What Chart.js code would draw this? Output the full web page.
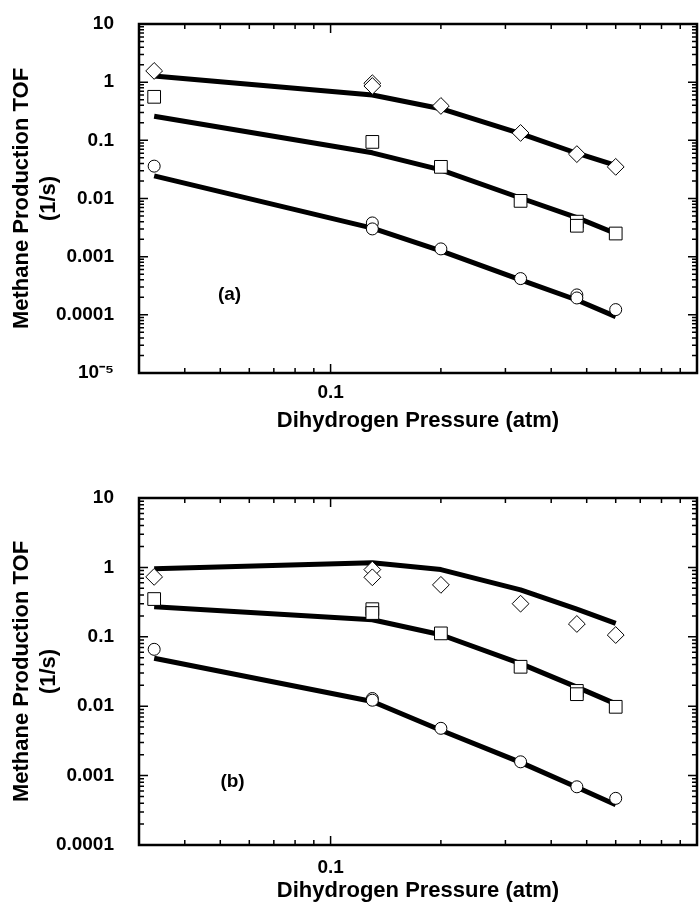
<!DOCTYPE html>
<html>
<head>
<meta charset="utf-8">
<script src="https://cdn.jsdelivr.net/npm/chart.js@4.4.1/dist/chart.umd.min.js"></script>
<style>
  html, body { margin: 0; padding: 0; background: #fff; }
  #wrap { position: relative; width: 699px; height: 905px; }
  canvas { position: absolute; left: 0; }
  #chartA { top: 0; }
  #chartB { top: 450px; }
</style>
</head>
<body>
<div id="wrap">
  <canvas id="chartA" width="699" height="450"></canvas>
  <canvas id="chartB" width="699" height="455"></canvas>
</div>
<script>
// pressures where the model curves are evaluated (atm)
const pressure = [0.033, 0.13, 0.2, 0.33, 0.47, 0.6];

// panel (a) - measured TOF
const aDiamondX = [0.033, 0.13, 0.13, 0.2, 0.33, 0.47, 0.6];
const aDiamondY = [1.56, 0.96, 0.86, 0.39, 0.134, 0.058, 0.035];
const aSquareX = [0.033, 0.13, 0.2, 0.33, 0.47, 0.47, 0.6];
const aSquareY = [0.56, 0.094, 0.035, 0.0091, 0.0040, 0.0034, 0.0025];
const aCircleX = [0.033, 0.13, 0.13, 0.2, 0.33, 0.47, 0.47, 0.6];
const aCircleY = [0.036, 0.0038, 0.0030, 0.00136, 0.00042, 0.00022, 0.000195, 0.000123];
// panel (a) - model curves
const aDiamondFit = [1.28, 0.60, 0.35, 0.13, 0.060, 0.037];
const aSquareFit = [0.26, 0.061, 0.031, 0.0102, 0.0047, 0.0025];
const aCircleFit = [0.0245, 0.0031, 0.00126, 0.00040, 0.00018, 0.000093];

// panel (b) - measured TOF
const bDiamondX = [0.033, 0.13, 0.13, 0.2, 0.33, 0.47, 0.6];
const bDiamondY = [0.73, 0.93, 0.72, 0.56, 0.30, 0.153, 0.106];
const bSquareX = [0.033, 0.13, 0.13, 0.2, 0.33, 0.47, 0.47, 0.6];
const bSquareY = [0.35, 0.25, 0.22, 0.112, 0.037, 0.0166, 0.0149, 0.0098];
const bCircleX = [0.033, 0.13, 0.13, 0.2, 0.33, 0.47, 0.6];
const bCircleY = [0.066, 0.0129, 0.0122, 0.0048, 0.00158, 0.00069, 0.00047];
// panel (b) - model curves
const bDiamondFit = [0.96, 1.17, 0.93, 0.475, 0.25, 0.156];
const bSquareFit = [0.27, 0.176, 0.107, 0.041, 0.0188, 0.0108];
const bCircleFit = [0.049, 0.0117, 0.0045, 0.00155, 0.00068, 0.00038];

// axis ticks
const xTickVals = [0.1];
const xTickText = ['0.1'];
const yTickVals = [0.00001, 0.0001, 0.001, 0.01, 0.1, 1, 10];
const yTickText = ['10\u207B\u2075', '0.0001', '0.001', '0.01', '0.1', '1', '10'];

const FONT = "'Liberation Sans', Arial, Helvetica, sans-serif";

const pts = (xs, ys) => xs.map((x, i) => ({ x, y: ys[i] }));

const markers = (xs, ys, style, r) => ({
  data: pts(xs, ys),
  showLine: false,
  pointStyle: style,
  pointRadius: r,
  pointBackgroundColor: '#fff',
  pointBorderColor: '#000',
  pointBorderWidth: 1,
  order: 0,
});

const curve = (ys) => ({
  data: pts(pressure, ys),
  showLine: true,
  borderColor: '#000',
  borderWidth: 5,
  borderJoinStyle: 'round',
  pointRadius: 0,
  tension: 0,
  order: 1,
});

// 1..9 x 10^d between min and max
const logTicks = (min, max) => {
  const out = [];
  for (let d = Math.floor(Math.log10(min)); d <= Math.ceil(Math.log10(max)); d++) {
    for (let m = 1; m <= 9; m++) {
      const v = Number((m * Math.pow(10, d)).toPrecision(3));
      if (v >= min * 0.999 && v <= max * 1.001) out.push({ v, major: m === 1 });
    }
  }
  return out;
};

// box around the plot, inward tick marks and the panel tag
const frameTicks = {
  id: 'frameTicks',
  afterDatasetsDraw(chart, args, opts) {
    const { ctx, chartArea: a, scales: { x, y } } = chart;
    ctx.save();
    ctx.strokeStyle = '#000';
    ctx.lineWidth = 1.5;
    ctx.beginPath();
    logTicks(x.min, x.max).forEach((t) => {
      const px = x.getPixelForValue(t.v);
      const len = t.major ? 9 : 5;
      ctx.moveTo(px, a.bottom); ctx.lineTo(px, a.bottom - len);
      ctx.moveTo(px, a.top); ctx.lineTo(px, a.top + len);
    });
    logTicks(y.min, y.max).forEach((t) => {
      const py = y.getPixelForValue(t.v);
      const len = t.major ? 9 : 5;
      ctx.moveTo(a.left, py); ctx.lineTo(a.left + len, py);
      ctx.moveTo(a.right, py); ctx.lineTo(a.right - len, py);
    });
    ctx.stroke();
    ctx.lineWidth = 2.5;
    ctx.strokeRect(a.left, a.top, a.right - a.left, a.bottom - a.top);

    ctx.fillStyle = '#000';
    ctx.font = `bold 19px ${FONT}`;
    ctx.textAlign = 'center';
    ctx.textBaseline = 'middle';
    ctx.fillText(opts.tag, x.getPixelForValue(opts.tagX), y.getPixelForValue(opts.tagY));
    ctx.restore();
  },
};

const tickFont = { family: FONT, size: 19, weight: 'bold' };
const titleFont = { family: FONT, size: 22, weight: 'bold' };

function makeChart(canvas, p) {
  return new Chart(canvas.getContext('2d'), {
    type: 'scatter',
    data: {
      datasets: [
        markers(p.dx, p.dy, 'rectRot', 8.4),
        markers(p.sx, p.sy, 'rect', 9),
        markers(p.cx, p.cy, 'circle', 6),
        curve(p.dFit),
        curve(p.sFit),
        curve(p.cFit),
      ],
    },
    options: {
      responsive: false,
      animation: false,
      layout: { autoPadding: false, padding: { top: p.top, right: 2, left: 0, bottom: 0 } },
      plugins: {
        legend: { display: false },
        tooltip: { enabled: false },
        frameTicks: { tag: p.tag, tagX: p.tagX, tagY: p.tagY },
      },
      scales: {
        x: {
          type: 'logarithmic',
          min: 0.03,
          max: 1,
          grid: { display: false },
          border: { display: false },
          afterBuildTicks: (s) => { s.ticks = xTickVals.map((value) => ({ value })); },
          afterFit: (s) => {
            s.height = p.xHeight;
            s.paddingLeft = 0;
            s.paddingRight = 0;
          },
          ticks: {
            autoSkip: false,
            maxRotation: 0,
            color: '#000',
            font: tickFont,
            padding: p.xPad,
            callback: (v) => xTickText[xTickVals.indexOf(v)],
          },
          title: {
            display: true,
            text: 'Dihydrogen Pressure (atm)',
            color: '#000',
            font: titleFont,
            padding: { top: 0, bottom: p.xTitlePad },
          },
        },
        y: {
          type: 'logarithmic',
          min: p.ymin,
          max: 10,
          grid: { display: false },
          border: { display: false },
          afterBuildTicks: (s) => {
            s.ticks = yTickVals.filter((v) => v >= p.ymin).map((value) => ({ value }));
          },
          afterFit: (s) => {
            s.width = 139;
            s.paddingTop = 0;
            s.paddingBottom = 0;
          },
          ticks: {
            autoSkip: false,
            color: '#000',
            font: tickFont,
            padding: 17,
            callback: (v) => yTickText[yTickVals.indexOf(v)],
          },
          title: {
            display: true,
            text: ['Methane Production TOF', '(1/s)'],
            color: '#000',
            font: titleFont,
            padding: { top: 9, bottom: 0 },
          },
        },
      },
    },
    plugins: [frameTicks],
  });
}

makeChart(document.getElementById('chartA'), {
  dx: aDiamondX, dy: aDiamondY, sx: aSquareX, sy: aSquareY, cx: aCircleX, cy: aCircleY,
  dFit: aDiamondFit, sFit: aSquareFit, cFit: aCircleFit,
  ymin: 0.00001, top: 24, xHeight: 77, xPad: 0, xTitlePad: 16,
  tag: '(a)', tagX: 0.053, tagY: 0.00022,
});

makeChart(document.getElementById('chartB'), {
  dx: bDiamondX, dy: bDiamondY, sx: bSquareX, sy: bSquareY, cx: bCircleX, cy: bCircleY,
  dFit: bDiamondFit, sFit: bSquareFit, cFit: bCircleFit,
  ymin: 0.0001, top: 48, xHeight: 60, xPad: 3, xTitlePad: 1,
  tag: '(b)', tagX: 0.054, tagY: 0.00081,
});
</script>
</body>
</html>
